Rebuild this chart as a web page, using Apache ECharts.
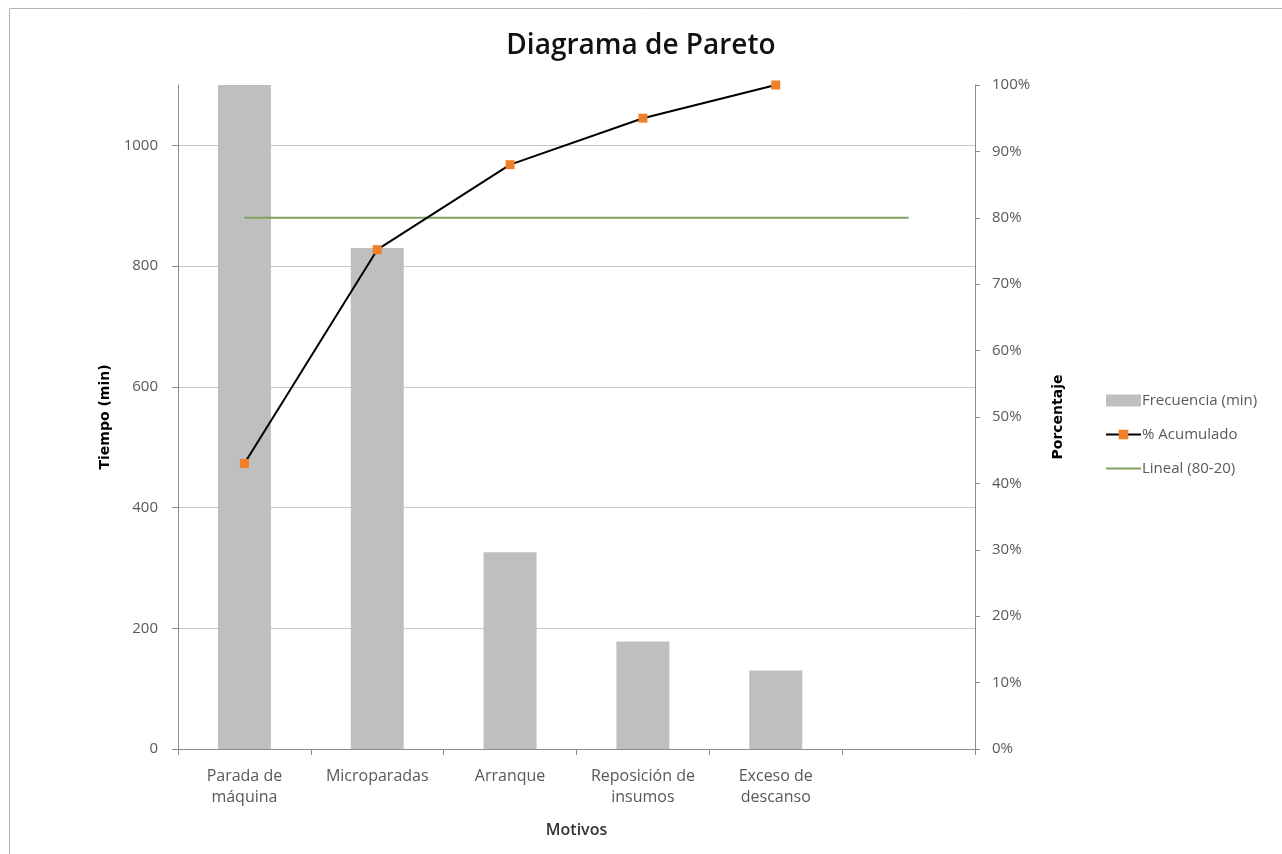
<!DOCTYPE html>
<html>
<head>
<meta charset="utf-8">
<script src="https://cdn.jsdelivr.net/npm/echarts@6/dist/echarts.min.js"></script>
<style>
  html, body { margin: 0; padding: 0; background: #fff; }
  #chart { width: 1282px; height: 854px; }
</style>
</head>
<body>
<div id="chart"></div>
<script>
const categories = ['Parada de\nmáquina', 'Microparadas', 'Arranque', 'Reposición de\ninsumos', 'Exceso de\ndescanso', '']
const frecuencia = [1100, 830, 326, 178, 130]
const acumulado = [43, 75.2, 88, 95, 100]
const lineal8020 = [80, 80, 80, 80, 80, 80]

const FONT = '"Open Sans", sans-serif'
const GRID_GRAY = '#c6c6c6'
const AXIS_GRAY = '#8c8c8c'
const LABEL = '#595959'

const chart = echarts.init(document.getElementById('chart'), null, { renderer: 'canvas' })

chart.setOption({
    animation: false,
    textStyle: { fontFamily: FONT },
    title: {
        text: 'Diagrama de Pareto',
        left: 'center',
        top: 27,
        textStyle: { fontFamily: FONT, fontSize: 28, fontWeight: 600, color: '#111' },
    },
    graphic: [{
        type: 'rect',
        silent: true,
        shape: { x: 9.5, y: 8.5, width: 1400, height: 1000 },
        style: { fill: 'none', stroke: '#b4b4b4', lineWidth: 1 },
    }],
    legend: {
        orient: 'vertical',
        left: 1100,
        top: 388,
        itemWidth: 35,
        itemHeight: 12,
        itemGap: 19,
        textStyle: { fontFamily: FONT, fontSize: 15, color: LABEL, padding: [0, 0, 0, -4] },
        data: [
            { name: 'Frecuencia (min)', icon: 'rect' },
            '% Acumulado',
            { name: 'Lineal (80-20)', itemStyle: { opacity: 0 } },
        ],
    },
    grid: { left: 178, right: 307, top: 85, bottom: 105 },
    xAxis: {
        type: 'category',
        data: categories,
        boundaryGap: true,
        name: 'Motivos',
        nameLocation: 'middle',
        nameGap: 73,
        nameTextStyle: { fontFamily: FONT, fontSize: 16, fontWeight: 600, color: '#333' },
        axisLine: { lineStyle: { color: AXIS_GRAY } },
        axisTick: { show: true, interval: 0, length: 6, lineStyle: { color: AXIS_GRAY } },
        axisLabel: { interval: 0, margin: 17, fontSize: 16, lineHeight: 21, color: LABEL, fontFamily: FONT },
    },
    yAxis: [
        {
            type: 'value',
            min: 0,
            max: 1100,
            interval: 200,
            name: 'Tiempo (min)',
            nameLocation: 'middle',
            nameRotate: 90,
            nameGap: 66,
            nameTextStyle: { fontFamily: '"DejaVu Sans", sans-serif', fontSize: 14, fontWeight: 'bold', color: '#000' },
            axisLine: { show: true, lineStyle: { color: AXIS_GRAY } },
            axisTick: { show: true, length: 6, lineStyle: { color: AXIS_GRAY } },
            axisLabel: { margin: 20, fontSize: 15, color: LABEL, fontFamily: FONT, showMaxLabel: false, formatter: (v) => String(v) },
            splitLine: { show: true, showMaxLine: false, lineStyle: { color: GRID_GRAY } },
        },
        {
            type: 'value',
            min: 0,
            max: 100,
            interval: 10,
            name: 'Porcentaje',
            nameLocation: 'middle',
            nameRotate: 90,
            nameGap: 76,
            nameTextStyle: { fontFamily: '"DejaVu Sans", sans-serif', fontSize: 14, fontWeight: 'bold', color: '#000' },
            axisLine: { show: true, lineStyle: { color: AXIS_GRAY } },
            axisTick: { show: true, length: 5, lineStyle: { color: AXIS_GRAY } },
            axisLabel: { margin: 17, fontSize: 15, color: LABEL, fontFamily: FONT, formatter: '{value}%' },
            splitLine: { show: false },
        },
    ],
    series: [
        {
            name: 'Frecuencia (min)',
            type: 'bar',
            data: frecuencia,
            barWidth: 53,
            itemStyle: { color: '#bfbfbf' },
        },
        {
            name: 'Lineal (80-20)',
            type: 'line',
            yAxisIndex: 1,
            data: lineal8020,
            symbol: 'none',
            lineStyle: { color: '#7ea25e', width: 2 },
            itemStyle: { color: '#7ea25e' },
        },
        {
            name: '% Acumulado',
            type: 'line',
            yAxisIndex: 1,
            data: acumulado,
            symbol: 'rect',
            symbolSize: 9,
            showAllSymbol: true,
            lineStyle: { color: '#000', width: 2 },
            itemStyle: { color: '#f07f2a' },
            z: 5,
        },
    ],
})
</script>
</body>
</html>
